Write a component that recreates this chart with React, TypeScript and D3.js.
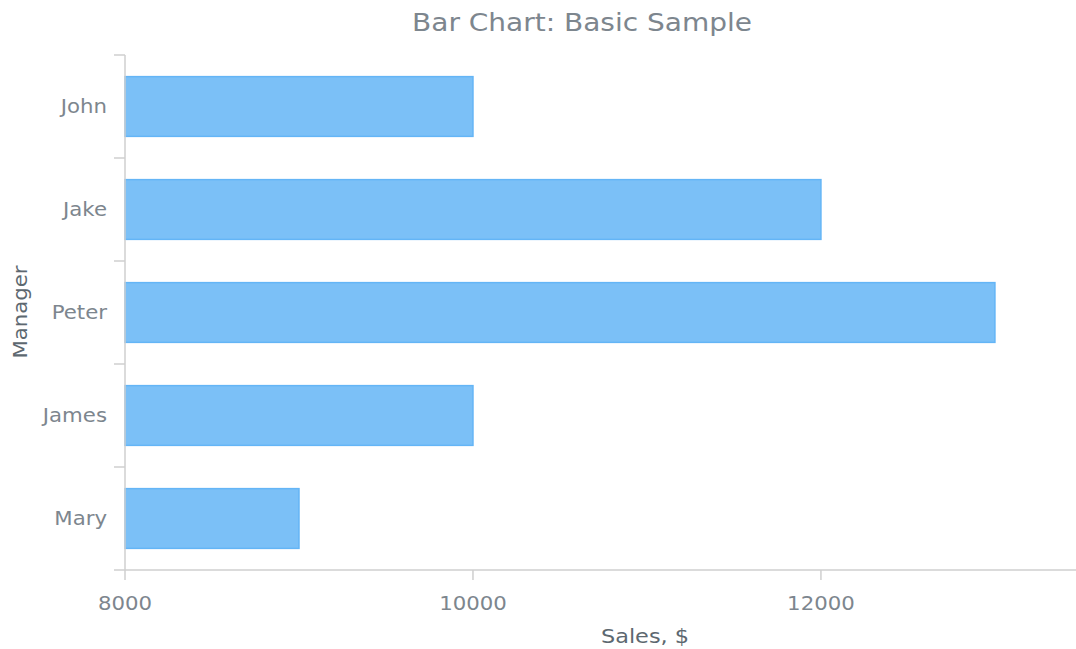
import React from "react";
import * as d3 from "d3";

const managers = ["John", "Jake", "Peter", "James", "Mary"];
const sales = [10000, 12000, 13000, 10000, 9000];
const xTicks = [8000, 10000, 12000];
const title = "Bar Chart: Basic Sample";
const xTitle = "Sales, $";
const yTitle = "Manager";

const SX = 1.12;

function T(props: { x: number; y: number; size: number; fill: string; anchor?: string; rotate?: number; dy?: string; children: React.ReactNode }) {
  const { x, y, size, fill, anchor = "middle", rotate = 0, dy, children } = props;
  return (
    <text transform={`translate(${x},${y}) rotate(${rotate}) scale(${SX},1)`} textAnchor={anchor} fontSize={size} fill={fill} dy={dy}>
      {children}
    </text>
  );
}

export default function App() {
  const W = 1076, H = 649;
  const left = 125, right = 1076, top = 55, bottom = 570;
  const x = d3.scaleLinear().domain([8000, 13466]).range([left, right]);
  const y = d3.scaleBand().domain(managers).range([top, bottom]).paddingInner(0.42).paddingOuter(0.21);
  const bandStep = (bottom - top) / managers.length;
  const txt = "#7d868e";
  const dark = "#5d6870";
  const axisC = "#cfcfcf";
  const font = "'DejaVu Sans', Verdana, sans-serif";
  return (
    <svg width={W} height={H} style={{ position: "absolute", left: 0, top: 0, fontFamily: font }}>
      <rect width={W} height={H} fill="#fff" />
      <T x={582} y={31} size={25} fill={txt}>{title}</T>
      {managers.map((m, i) => (
        <rect key={m} x={x(8000)} y={y(m)!} width={x(sales[i]) - x(8000)} height={y.bandwidth()}
          fill="#64b5f6" fillOpacity={0.85} stroke="#64b5f6" strokeWidth={1.5} />
      ))}
      <line x1={left} x2={left} y1={top} y2={bottom} stroke={axisC} strokeWidth={1.5} />
      {d3.range(managers.length + 1).map(i => (
        <line key={"yt" + i} x1={left - 11} x2={left} y1={top + i * bandStep} y2={top + i * bandStep} stroke={axisC} strokeWidth={1.5} />
      ))}
      {managers.map(m => (
        <T key={"l" + m} x={107} y={y(m)! + y.bandwidth() / 2} dy="0.35em" anchor="end" size={19} fill={txt}>{m}</T>
      ))}
      <line x1={left} x2={right} y1={bottom} y2={bottom} stroke={axisC} strokeWidth={1.5} />
      {xTicks.map(t => (
        <g key={"xt" + t}>
          <line x1={x(t)} x2={x(t)} y1={bottom} y2={bottom + 10} stroke={axisC} strokeWidth={1.5} />
          <T x={x(t)} y={610} size={19} fill={txt}>{t}</T>
        </g>
      ))}
      <T x={645} y={643} size={20} fill={dark}>{xTitle}</T>
      <T x={27} y={312} rotate={-90} size={19} fill={dark}>{yTitle}</T>
    </svg>
  );
}
